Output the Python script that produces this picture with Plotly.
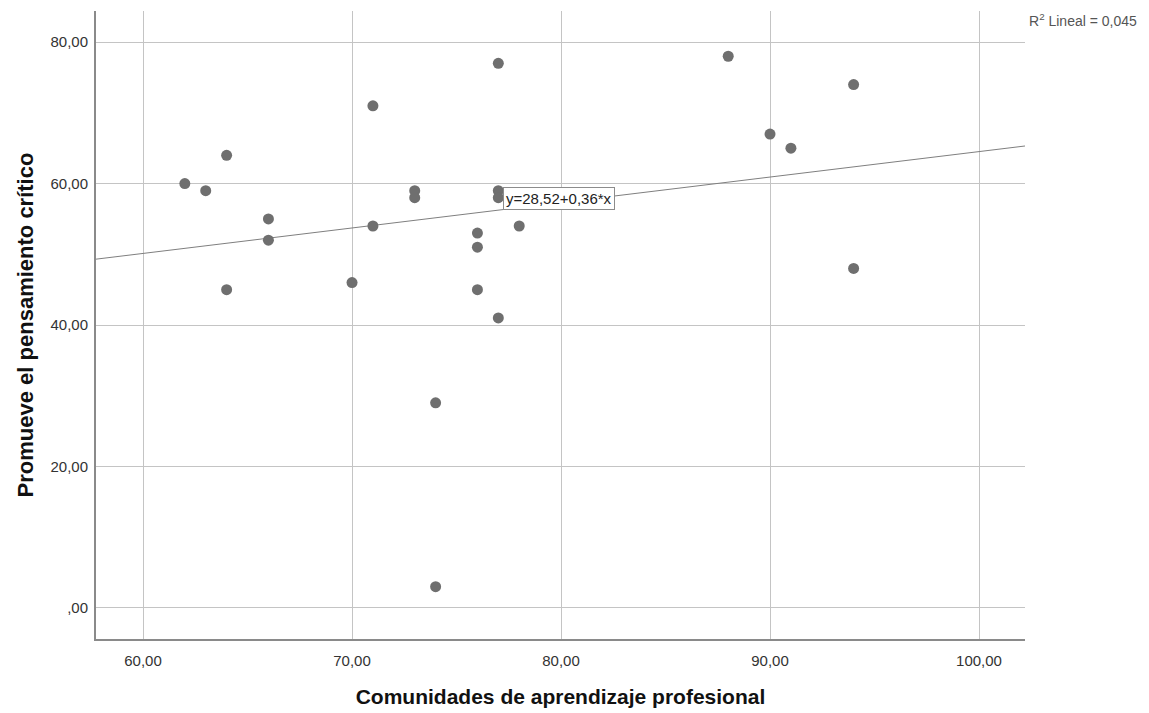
import plotly.graph_objects as go

# Puntuaciones por participante
comunidades = [62, 63, 64, 64, 66, 66, 70, 71, 71, 73, 73, 74, 74,
               76, 76, 76, 77, 77, 77, 77, 78, 88, 90, 91, 94, 94]
pensamiento = [60, 59, 64, 45, 55, 52, 46, 71, 54, 59, 58, 29, 3,
               53, 51, 45, 77, 59, 58, 41, 54, 78, 67, 65, 74, 48]

# Ajuste lineal reportado
intercepto = 28.52
pendiente = 0.36
r2 = "0,045"

x_ticks = [60, 70, 80, 90, 100]
x_labels = ["60,00", "70,00", "80,00", "90,00", "100,00"]
y_ticks = [0, 20, 40, 60, 80]
y_labels = [",00", "20,00", "40,00", "60,00", "80,00"]

x_range = [57.75, 102.2]
y_range = [-4.4, 84.4]

sans = "Liberation Sans, Arial, sans-serif"

fig = go.Figure()

# Recta de regresión a lo largo de todo el eje X
fig.add_trace(go.Scatter(
    x=x_range,
    y=[intercepto + pendiente * v for v in x_range],
    mode="lines",
    line=dict(color="#7f7f7f", width=1),
    hoverinfo="skip",
    showlegend=False,
))

fig.add_trace(go.Scatter(
    x=comunidades, y=pensamiento,
    mode="markers",
    marker=dict(color="#6f6f6f", size=11, line=dict(width=0)),
    showlegend=False,
))

eq_x = 77.2
fig.add_annotation(
    x=eq_x, y=intercepto + pendiente * eq_x + 1.6,
    xref="x", yref="y",
    text="y=28,52+0,36*x",
    showarrow=False,
    xanchor="left", yanchor="middle",
    font=dict(family=sans, size=15, color="#222222"),
    bgcolor="white",
    bordercolor="#8c8c8c", borderwidth=1, borderpad=2,
)

fig.add_annotation(
    x=1.002, y=0.985, xref="paper", yref="paper",
    text="R<sup>2</sup> Lineal = " + r2,
    showarrow=False, xanchor="left", yanchor="middle",
    font=dict(family=sans, size=14, color="#555555"),
)

fig.update_layout(
    width=1149, height=713,
    margin=dict(l=96, r=124, t=11, b=74, autoexpand=False),
    paper_bgcolor="white", plot_bgcolor="white",
    xaxis=dict(
        range=x_range, tickvals=x_ticks, ticktext=x_labels,
        showgrid=True, gridcolor="#c4c4c4", gridwidth=1,
        zeroline=False,
        showline=True, linecolor="#8a8a8a", linewidth=2,
        ticks="outside", ticklen=7, tickcolor="rgba(0,0,0,0)",
        tickfont=dict(family=sans, size=15, color="#333333"),
        automargin=False,
        title=dict(text="<b>Comunidades de aprendizaje profesional</b>",
                   font=dict(family=sans, size=21, color="#111111"),
                   standoff=21),
    ),
    yaxis=dict(
        range=y_range, tickvals=y_ticks, ticktext=y_labels,
        showgrid=True, gridcolor="#c4c4c4", gridwidth=1,
        zeroline=False,
        showline=True, linecolor="#8a8a8a", linewidth=2,
        ticks="outside", ticklen=3, tickcolor="rgba(0,0,0,0)",
        tickfont=dict(family=sans, size=15, color="#333333"),
        automargin=False,
        title=dict(text="<b>Promueve el pensamiento crítico</b>",
                   font=dict(family=sans, size=22, color="#111111"),
                   standoff=11),
    ),
)

fig.write_html("out.html")
